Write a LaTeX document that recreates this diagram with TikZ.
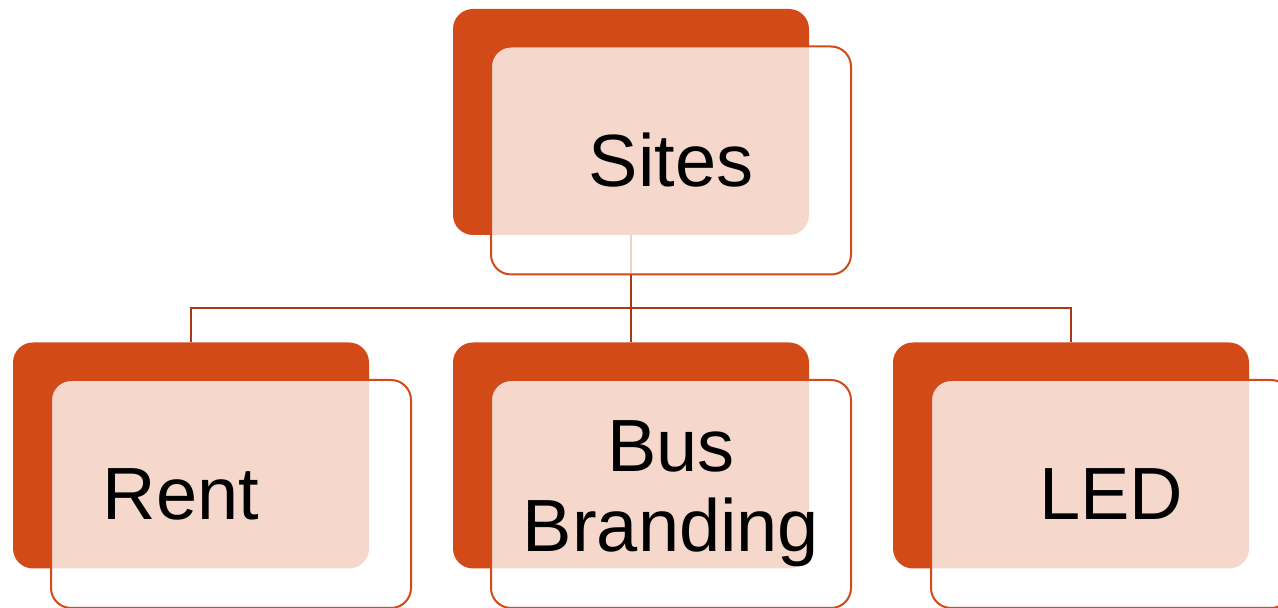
\documentclass[tikz,border=0pt]{standalone}
\usepackage{fontspec}
\setmainfont{Liberation Sans}
\definecolor{rust}{RGB}{210,74,24}
\definecolor{darkrust}{RGB}{168,56,22}

\begin{document}
\begin{tikzpicture}[
  x=1pt, y=1pt,
  back box/.style={
    fill=rust,
    rounded corners=20pt,
    minimum width=356pt,
    minimum height=226pt,
    inner sep=0pt
  },
  front box/.style={
    draw=rust,
    line width=2pt,
    fill=white,
    fill opacity=.78,
    text opacity=1,
    rounded corners=20pt,
    minimum width=360pt,
    minimum height=228pt,
    inner sep=0pt,
    align=center,
    font=\fontsize{74}{80}\selectfont
  },
  link/.style={
    darkrust,
    line width=2.2pt
  },
]
\useasboundingbox (0,0) rectangle (1278,608);
\node[back box] (sitesback) at (631,486) {};
\node[back box] (rentback) at (191,152.5) {};
\node[back box] (busback) at (631,152.5) {};
\node[back box] (ledback) at (1071,152.5) {};
\draw[link] (sitesback.south) -- +(0,-73) coordinate (fork);
\draw[link] (rentback.north) |- (fork) -| (ledback.north);
\draw[link] (fork) -- (busback.north);
\node[front box] (sites) at (671,447.5) {Sites};
\node[front box] (rent) at (231,114) {Rent\hspace*{100pt}};
\node[front box] (bus) at (671,114) {Bus\\Branding};
\node[front box] (led) at (1111,114) {LED};
\end{tikzpicture}
\end{document}
